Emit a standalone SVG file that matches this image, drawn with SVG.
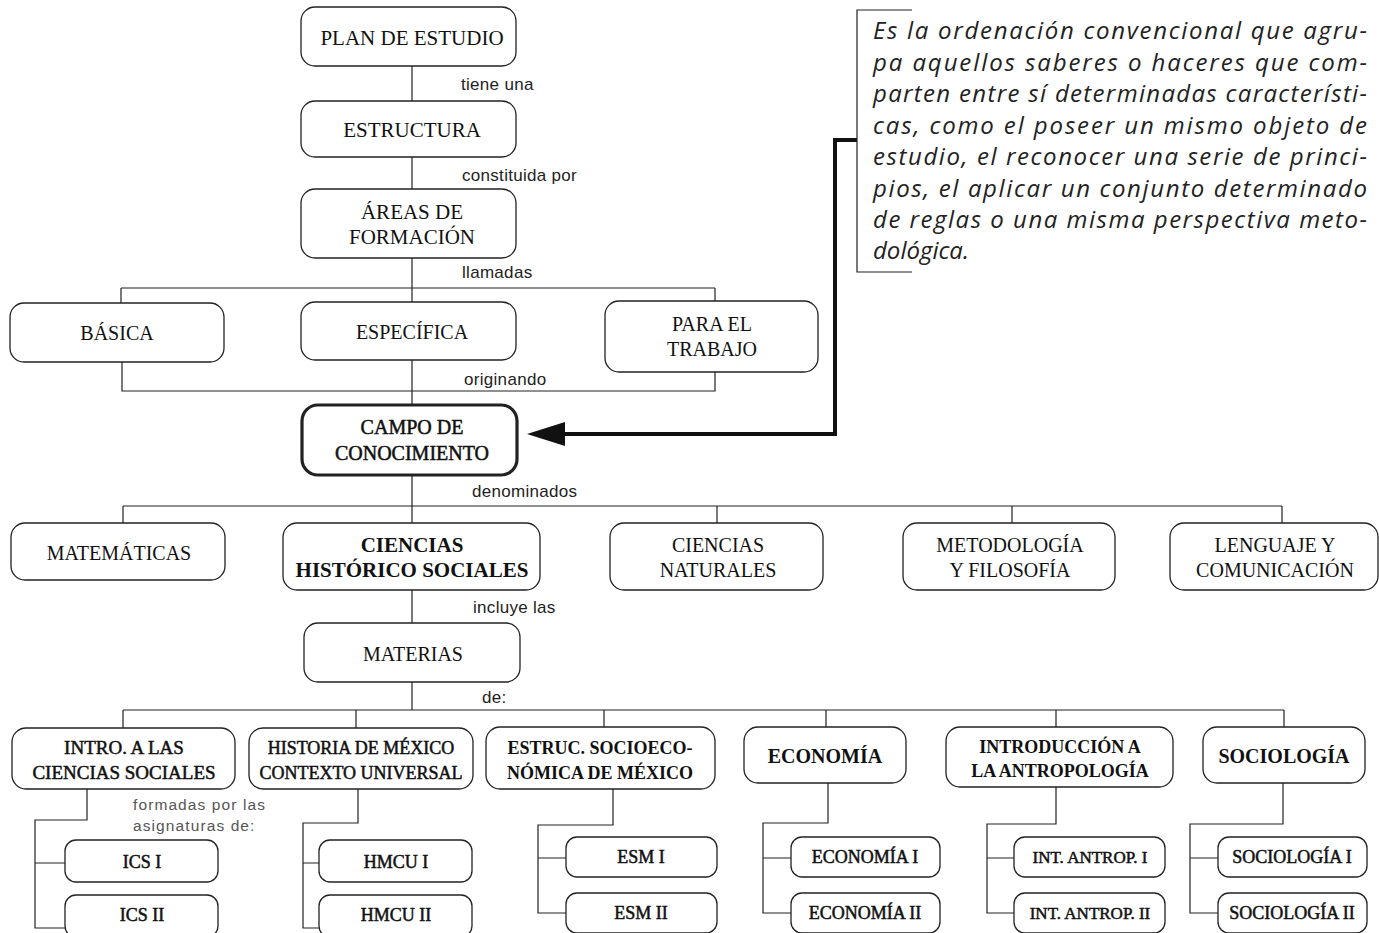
<svg xmlns="http://www.w3.org/2000/svg" width="1379" height="933" viewBox="0 0 1379 933">
<style>
.box{fill:#fff;stroke:#222;stroke-width:1.3}
.thick{stroke-width:3.2}
.ln{stroke:#222;stroke-width:1.2;fill:none}
.t{font-family:"Liberation Serif",serif;fill:#111;text-anchor:middle;font-size:21px}
.s20{font-size:20px}
.s19{font-size:19px}
.s18{font-size:18px}
.s17{font-size:17px}
.b{font-weight:bold}
.sb{stroke:#111;stroke-width:0.5}
.lbl{font-family:"Liberation Sans",sans-serif;font-size:17px;fill:#222;letter-spacing:0.3px}
.gray{fill:#555;font-size:15.5px;letter-spacing:1.1px}
.it{font-family:"Open Sans","Liberation Sans",sans-serif;font-style:italic;font-size:24px;fill:#222}
</style>
<rect width="1379" height="933" fill="#fff"/>

<g id="connectors">
<path class="ln" d="M412 66V101M412 157V189M412 258V302M121 288H715M121 288V303M715 288V301"/>
<path class="ln" d="M122 362V391H715V372M412 360V405"/>
<path class="ln" d="M412 475V523M123 506H1282M123 506V523M717 506V523M1012 506V523M1282 506V523"/>
<path class="ln" d="M412 590V623M412 682V710M123 710H1284M123 710V728M356 710V728M604 710V727M826 710V727M1056 710V727M1284 710V727"/>
<path class="ln" d="M87 789V820H35V928H65M35 863H65"/>
<path class="ln" d="M358 789V823H303V928H319M303 863H319"/>
<path class="ln" d="M613 789V825H538V913H566M538 858H566"/>
<path class="ln" d="M828 783V823H763V913H791M763 858H791"/>
<path class="ln" d="M1056 787V824H987V913H1014M987 858H1014"/>
<path class="ln" d="M1283 783V824H1190V913H1218M1190 858H1218"/>
<path d="M857 140H835V434H560" fill="none" stroke="#111" stroke-width="4"/>
<polygon points="527,434 565,422 565,446" fill="#111"/>
<path class="ln" d="M912 10H857V272H912"/>
<text class="lbl" x="461" y="90">tiene una</text>
<text class="lbl" x="462" y="181">constituida por</text>
<text class="lbl" x="462" y="278">llamadas</text>
<text class="lbl" x="464" y="385">originando</text>
<text class="lbl" x="472" y="497">denominados</text>
<text class="lbl" x="473" y="613">incluye las</text>
<text class="lbl" x="482" y="703">de:</text>
<text class="lbl gray" x="133" y="810">formadas por las</text>
<text class="lbl gray" x="133" y="831">asignaturas de:</text>
</g>

<g id="definicion">
<text class="it" x="873" y="39" textLength="494" lengthAdjust="spacing">Es la ordenación convencional que agru-</text>
<text class="it" x="873" y="70.5" textLength="494" lengthAdjust="spacing">pa aquellos saberes o haceres que com-</text>
<text class="it" x="873" y="102" textLength="494" lengthAdjust="spacing">parten entre sí determinadas característi-</text>
<text class="it" x="873" y="133.5" textLength="494" lengthAdjust="spacing">cas, como el poseer un mismo objeto de</text>
<text class="it" x="873" y="165" textLength="494" lengthAdjust="spacing">estudio, el reconocer una serie de princi-</text>
<text class="it" x="873" y="196.5" textLength="494" lengthAdjust="spacing">pios, el aplicar un conjunto determinado</text>
<text class="it" x="873" y="228" textLength="494" lengthAdjust="spacing">de reglas o una misma perspectiva meto-</text>
<text class="it" x="873" y="259">dológica.</text>
</g>

<g id="plan"><rect class="box" x="301" y="7" width="215" height="59" rx="14"/><text class="t" x="412" y="45">PLAN DE ESTUDIO</text></g>
<g id="estructura"><rect class="box" x="301" y="101" width="215" height="56" rx="14"/><text class="t" x="412" y="137">ESTRUCTURA</text></g>
<g id="areas"><rect class="box" x="301" y="189" width="215" height="69" rx="14"/><text class="t" x="412" y="219">ÁREAS DE</text><text class="t" x="412" y="244">FORMACIÓN</text></g>
<g id="basica"><rect class="box" x="10" y="303" width="214" height="59" rx="14"/><text class="t s20" x="117" y="340">BÁSICA</text></g>
<g id="especifica"><rect class="box" x="301" y="302" width="215" height="58" rx="14"/><text class="t s20" x="412" y="339">ESPECÍFICA</text></g>
<g id="trabajo"><rect class="box" x="605" y="301" width="213" height="71" rx="14"/><text class="t s20" x="712" y="331">PARA EL</text><text class="t s20" x="712" y="356">TRABAJO</text></g>
<g id="campo"><rect class="box thick" x="302" y="405" width="215" height="70" rx="16"/><text class="t s20 sb" x="412" y="434">CAMPO DE</text><text class="t s20 sb" x="412" y="460">CONOCIMIENTO</text></g>

<g id="matematicas"><rect class="box" x="11" y="523" width="214" height="57" rx="14"/><text class="t s20" x="119" y="560" fill="#444">MATEMÁTICAS</text></g>
<g id="historicosociales"><rect class="box" x="283" y="523" width="257" height="67" rx="14"/><text class="t b" x="412" y="552">CIENCIAS</text><text class="t b" x="412" y="577">HISTÓRICO SOCIALES</text></g>
<g id="naturales"><rect class="box" x="610" y="523" width="213" height="67" rx="14"/><text class="t s20" x="718" y="552">CIENCIAS</text><text class="t s20" x="718" y="577">NATURALES</text></g>
<g id="metodologia"><rect class="box" x="903" y="523" width="212" height="67" rx="14"/><text class="t s20" x="1010" y="552">METODOLOGÍA</text><text class="t s20" x="1010" y="577">Y FILOSOFÍA</text></g>
<g id="lenguaje"><rect class="box" x="1170" y="523" width="208" height="67" rx="14"/><text class="t s20" x="1275" y="552">LENGUAJE Y</text><text class="t s20" x="1275" y="577">COMUNICACIÓN</text></g>
<g id="materias"><rect class="box" x="304" y="623" width="216" height="59" rx="14"/><text class="t s20" x="413" y="661">MATERIAS</text></g>

<g id="intro"><rect class="box" x="12" y="728" width="223" height="61" rx="14"/><text class="t s19 sb" x="124" y="754">INTRO. A LAS</text><text class="t s19 sb" x="124" y="779">CIENCIAS SOCIALES</text></g>
<g id="historia"><rect class="box" x="249" y="728" width="224" height="61" rx="14"/><text class="t s18 sb" x="361" y="754">HISTORIA DE MÉXICO</text><text class="t s18 sb" x="361" y="779">CONTEXTO UNIVERSAL</text></g>
<g id="estruc"><rect class="box" x="486" y="727" width="229" height="62" rx="14"/><text class="t s18 b" x="600" y="754">ESTRUC. SOCIOECO-</text><text class="t s18 b" x="600" y="779">NÓMICA DE MÉXICO</text></g>
<g id="economia"><rect class="box" x="744" y="727" width="162" height="56" rx="14"/><text class="t s20 b" x="825" y="763">ECONOMÍA</text></g>
<g id="antropologia"><rect class="box" x="946" y="727" width="227" height="60" rx="14"/><text class="t s18 b" x="1060" y="753">INTRODUCCIÓN A</text><text class="t s18 b" x="1060" y="777">LA ANTROPOLOGÍA</text></g>
<g id="sociologia"><rect class="box" x="1203" y="727" width="162" height="56" rx="14"/><text class="t s20 b" x="1284" y="763">SOCIOLOGÍA</text></g>

<g id="ics1"><rect class="box" x="65" y="840" width="153" height="42" rx="11"/><text class="t s18 sb" x="142" y="868">ICS I</text></g>
<g id="ics2"><rect class="box" x="65" y="895" width="153" height="42" rx="11"/><text class="t s18 sb" x="142" y="921">ICS II</text></g>
<g id="hmcu1"><rect class="box" x="319" y="840" width="153" height="42" rx="11"/><text class="t s18 sb" x="396" y="868">HMCU I</text></g>
<g id="hmcu2"><rect class="box" x="319" y="895" width="153" height="42" rx="11"/><text class="t s18 sb" x="396" y="921">HMCU II</text></g>
<g id="esm1"><rect class="box" x="566" y="837" width="151" height="40" rx="11"/><text class="t s18 sb" x="641" y="863">ESM I</text></g>
<g id="esm2"><rect class="box" x="566" y="893" width="151" height="40" rx="11"/><text class="t s18 sb" x="641" y="919">ESM II</text></g>
<g id="econ1"><rect class="box" x="791" y="837" width="149" height="40" rx="11"/><text class="t s18 sb" x="865" y="863">ECONOMÍA I</text></g>
<g id="econ2"><rect class="box" x="791" y="893" width="149" height="40" rx="11"/><text class="t s18 sb" x="865" y="919">ECONOMÍA II</text></g>
<g id="antrop1"><rect class="box" x="1014" y="837" width="151" height="40" rx="11"/><text class="t s17 sb" x="1090" y="863">INT. ANTROP. I</text></g>
<g id="antrop2"><rect class="box" x="1014" y="893" width="151" height="40" rx="11"/><text class="t s17 sb" x="1090" y="919">INT. ANTROP. II</text></g>
<g id="soc1"><rect class="box" x="1218" y="837" width="149" height="40" rx="11"/><text class="t s18 sb" x="1292" y="863">SOCIOLOGÍA I</text></g>
<g id="soc2"><rect class="box" x="1218" y="893" width="149" height="40" rx="11"/><text class="t s18 sb" x="1292" y="919">SOCIOLOGÍA II</text></g>
</svg>
